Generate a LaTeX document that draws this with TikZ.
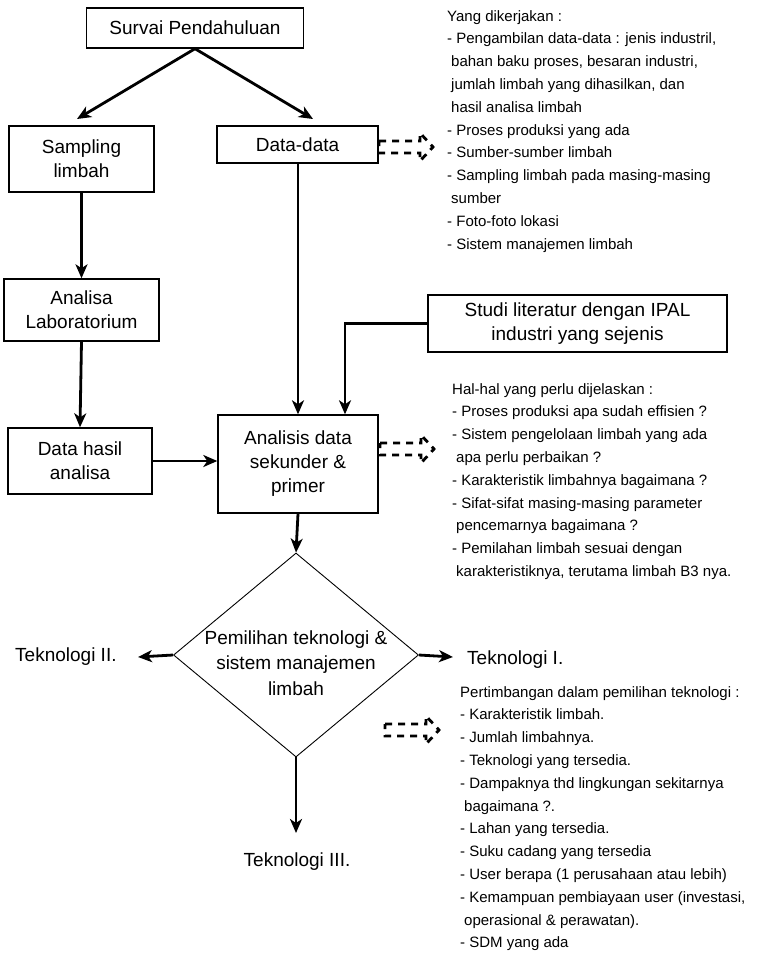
\documentclass[tikz,border=0pt]{standalone}
\usepackage{fontspec}
\setmainfont{Liberation Sans}
\usetikzlibrary{arrows.meta,shapes.geometric}
\begin{document}
\begin{tikzpicture}[x=1pt,y=-1pt,
  box/.style={draw, line width=1.4pt, inner sep=0pt, align=center, font=\fontsize{19}{24}\selectfont},
  conn/.style={line width=2.8pt, -{Stealth[length=14pt,width=12pt,inset=4pt]}},
  note/.style={inner sep=0pt, align=left, anchor=north west, font=\fontsize{15}{22.8}\selectfont},
  lbl/.style={inner sep=0pt, font=\fontsize{19}{24}\selectfont},
  hollow/.style={line width=2.8pt, dash pattern=on 7pt off 6pt},
  hollowarrow/.pic={\draw[hollow] (0,-6) -- (41,-6) -- (41,-14) -- (54,0) -- (41,14) -- (41,6) -- (0,6) -- cycle;}
]
\useasboundingbox[fill=white] (0,0) rectangle (770,963);
\newcommand{\ind}{\hspace*{4pt}}

% boxes
\node[box, minimum width=217pt, minimum height=40pt] (survai) at (195,28) {Survai Pendahuluan};
\node[box, minimum width=145pt, minimum height=66pt] (sampling) at (81.5,159) {Sampling\\limbah};
\node[box, minimum width=161pt, minimum height=37pt] (data) at (297.5,144.5) {Data-data};
\node[box, minimum width=155pt, minimum height=62pt] (lab) at (81.5,310) {Analisa\\Laboratorium};
\node[box, minimum width=144pt, minimum height=66pt] (hasil) at (80,461) {Data hasil\\analisa};
\node[box, minimum width=160pt, minimum height=98pt] (analisis) at (298,464) {Analisis data\\sekunder \&\\primer};
\node[box, minimum width=299pt, minimum height=57pt] (studi) at (577.5,323.5) {Studi literatur dengan IPAL\\industri yang sejenis};
\node[draw, line width=0.9pt, diamond, minimum width=245pt, minimum height=204pt, inner sep=0pt] (diam) at (296,655) {};
\node[lbl, align=center, font=\fontsize{19}{25.5}\selectfont] (diamtext) at (296,663) {Pemilihan teknologi \&\\sistem manajemen\\limbah};

% outcome labels
\node[lbl, anchor=west] (tek2) at (15,657) {Teknologi II.};
\node[lbl, anchor=west] (tek1) at (467,660) {Teknologi I.};
\node[lbl] (tek3) at (297,862) {Teknologi III.};

% connector ends
\coordinate (sa) at (77,119);
\coordinate (da) at (313,119);
\coordinate (t2) at (138,657);
\coordinate (t1) at (453,657);
\coordinate (t3) at (296,833);

% connectors
\draw[conn] (survai.south) -- (sa);
\draw[conn] (survai.south) -- (da);
\draw[conn] (sampling.south) -- (lab.north);
\draw[conn] (lab.south) -- (hasil.north);
\draw[conn] (hasil.east) -- (hasil.east -| analisis.west);
\draw[conn] (data.south -| analisis.north) -- (analisis.north);
\draw[conn] (studi.west) -| ([xshift=47pt]analisis.north);
\draw[conn] (analisis.south) -- (diam.north);
\draw[conn] (diam.west) -- (t2);
\draw[conn] (diam.east) -- (t1);
\draw[conn] (diam.south) -- (t3);

% dashed hollow arrows
\pic at (379,147) {hollowarrow};
\pic at (380,449) {hollowarrow};
\pic at (385,730) {hollowarrow};

% notes
\node[note] (note1) at (447,10) {Yang dikerjakan :\\
- Pengambilan data-data : jenis industril,\\
\ind bahan baku proses, besaran industri,\\
\ind jumlah limbah yang dihasilkan, dan\\
\ind hasil analisa limbah\\
- Proses produksi yang ada\\
- Sumber-sumber limbah\\
- Sampling limbah pada masing-masing\\
\ind sumber\\
- Foto-foto lokasi\\
- Sistem manajemen limbah};

\node[note] (note2) at (452,383) {Hal-hal yang perlu dijelaskan :\\
- Proses produksi apa sudah effisien ?\\
- Sistem pengelolaan limbah yang ada\\
\ind apa perlu perbaikan ?\\
- Karakteristik limbahnya bagaimana ?\\
- Sifat-sifat masing-masing parameter\\
\ind pencemarnya bagaimana ?\\
- Pemilahan limbah sesuai dengan\\
\ind karakteristiknya, terutama limbah B3 nya.};

\node[note] (note3) at (460,686) {Pertimbangan dalam pemilihan teknologi :\\
- Karakteristik limbah.\\
- Jumlah limbahnya.\\
- Teknologi yang tersedia.\\
- Dampaknya thd lingkungan sekitarnya\\
\ind bagaimana ?.\\
- Lahan yang tersedia.\\
- Suku cadang yang tersedia\\
- User berapa (1 perusahaan atau lebih)\\
- Kemampuan pembiayaan user (investasi,\\
\ind operasional \& perawatan).\\
- SDM yang ada};
\end{tikzpicture}
\end{document}
